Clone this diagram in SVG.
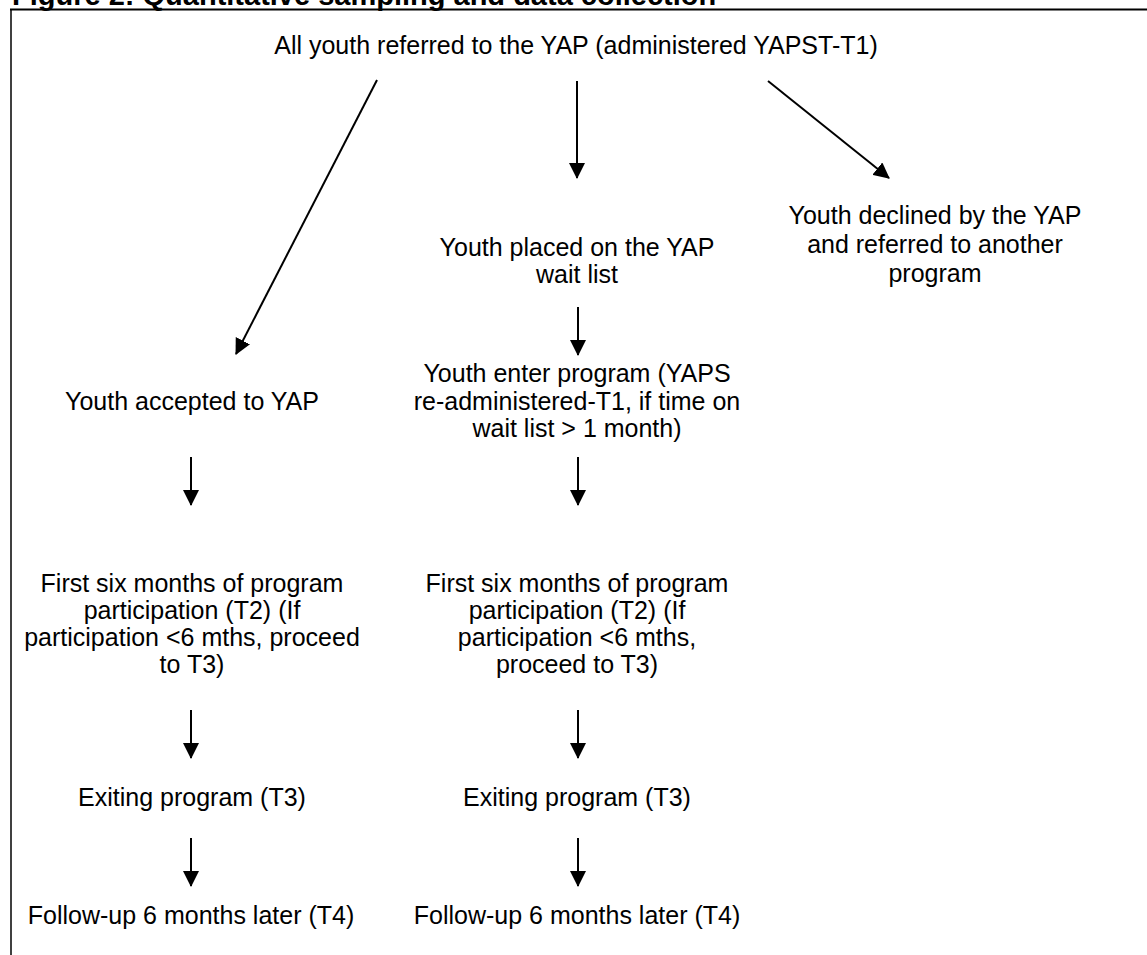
<svg xmlns="http://www.w3.org/2000/svg" width="1147" height="955" viewBox="0 0 1147 955">
<style>
.t{font-family:"Liberation Sans",Arial,sans-serif;font-size:25px;fill:#000;text-anchor:middle}
.title{font-family:"Liberation Sans",Arial,sans-serif;font-size:29px;font-weight:bold;fill:#000}
.c{stroke:#000;stroke-width:2;fill:none;marker-end:url(#ah)}
</style>
<defs>
<marker id="ah" markerUnits="userSpaceOnUse" markerWidth="16" markerHeight="16" viewBox="0 0 16 16" refX="15" refY="8" orient="auto">
<path d="M0,0 L16,8 L0,16 Z" fill="#000"/>
</marker>
</defs>
<rect width="1147" height="955" fill="#fff"/>
<text class="title" x="12" y="4.5">Figure 2: Quantitative sampling and data collection</text>
<g id="frame">
<line x1="10" y1="9.5" x2="1147" y2="9.5" stroke="#000" stroke-width="2"/>
<line x1="11" y1="9" x2="11" y2="955" stroke="#000" stroke-width="1.5"/>
</g>
<g id="n-all"><text class="t" x="576" y="54">All youth referred to the YAP (administered YAPST-T1)</text></g>
<g id="n-wait"><text class="t" x="577" y="256">Youth placed on the YAP</text><text class="t" x="577" y="283">wait list</text></g>
<g id="n-declined"><text class="t" x="935" y="224">Youth declined by the YAP</text><text class="t" x="935" y="253">and referred to another</text><text class="t" x="935" y="282">program</text></g>
<g id="n-accepted"><text class="t" x="192" y="410">Youth accepted to YAP</text></g>
<g id="n-enter"><text class="t" x="577" y="382">Youth enter program (YAPS</text><text class="t" x="577" y="410">re-administered-T1, if time on</text><text class="t" x="577" y="437">wait list &gt; 1 month)</text></g>
<g id="n-first-l"><text class="t" x="192" y="592">First six months of program</text><text class="t" x="192" y="619">participation (T2) (If</text><text class="t" x="192" y="646">participation &lt;6 mths, proceed</text><text class="t" x="192" y="673">to T3)</text></g>
<g id="n-first-c"><text class="t" x="577" y="592">First six months of program</text><text class="t" x="577" y="619">participation (T2) (If</text><text class="t" x="577" y="646">participation &lt;6 mths,</text><text class="t" x="577" y="673">proceed to T3)</text></g>
<g id="n-exit-l"><text class="t" x="192" y="806">Exiting program (T3)</text></g>
<g id="n-exit-c"><text class="t" x="577" y="806">Exiting program (T3)</text></g>
<g id="n-follow-l"><text class="t" x="191" y="924">Follow-up 6 months later (T4)</text></g>
<g id="n-follow-c"><text class="t" x="577" y="924">Follow-up 6 months later (T4)</text></g>
<g id="connectors">
<line class="c" x1="377" y1="80" x2="236" y2="354"/>
<line class="c" x1="577" y1="81" x2="577" y2="178"/>
<line class="c" x1="768" y1="81" x2="889" y2="178"/>
<line class="c" x1="578" y1="307" x2="578" y2="355"/>
<line class="c" x1="191" y1="457" x2="191" y2="505"/>
<line class="c" x1="578" y1="457" x2="578" y2="505"/>
<line class="c" x1="191" y1="710" x2="191" y2="758"/>
<line class="c" x1="578" y1="710" x2="578" y2="758"/>
<line class="c" x1="191" y1="838" x2="191" y2="886"/>
<line class="c" x1="578" y1="838" x2="578" y2="886"/>
</g>
</svg>
